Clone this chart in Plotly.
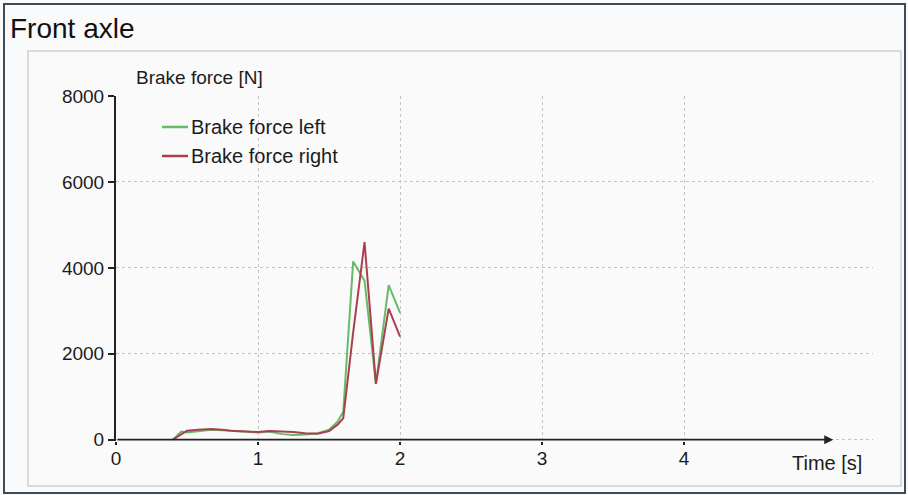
import plotly.graph_objects as go

# ---------------- data ----------------
chart_title = "Front axle"
y_title = "Brake force [N]"
x_title = "Time [s]"
series_names = ["Brake force left", "Brake force right"]

time_s = [0.40, 0.46, 0.50, 0.58, 0.67, 0.75, 0.83, 0.92, 1.00, 1.08, 1.17,
          1.25, 1.33, 1.42, 1.50, 1.56, 1.60, 1.67, 1.75, 1.83, 1.92, 2.00]
force_left = [0, 190, 170, 200, 230, 220, 200, 180, 170, 190, 130,
              110, 120, 150, 230, 420, 650, 4150, 3700, 1300, 3600, 2950]
force_right = [0, 120, 210, 230, 250, 230, 200, 190, 180, 200, 190,
               180, 150, 140, 200, 350, 500, 2500, 4600, 1300, 3050, 2400]

x_ticks = [0, 1, 2, 3, 4]
y_ticks = [0, 2000, 4000, 6000, 8000]

# ---------------- styling ----------------
W, H = 908, 495
ML, MR, MT, MB = 116, 35, 96, 54
X_RANGE = [0, 5.33]
Y_RANGE = [-30, 8000]
FONT = "Liberation Sans, Arial, sans-serif"
TXT = "#1c1c1c"
GREEN = "#66bb66"
RED = "#a8404f"

PW = W - ML - MR
PH = H - MT - MB


def px(x):
    return (x - ML) / PW


def py(y):
    return 1 - (y - MT) / PH


fig = go.Figure()
for name, vals, col in [(series_names[0], force_left, GREEN),
                        (series_names[1], force_right, RED)]:
    fig.add_trace(go.Scatter(x=time_s, y=vals, mode="lines", name=name,
                             line=dict(color=col, width=2), showlegend=False))

shapes = []
# outer frame
shapes.append(dict(type="rect", xref="paper", yref="paper",
                   x0=px(4), x1=px(905), y0=py(4), y1=py(493),
                   line=dict(color="#3e4a56", width=2), layer="below"))
# inner panel
shapes.append(dict(type="rect", xref="paper", yref="paper",
                   x0=px(28), x1=px(901), y0=py(51), y1=py(486),
                   line=dict(color="#cfcfcf", width=1.5), layer="below"))

annotations = []
# x axis drawn as an arrow
annotations.append(dict(x=5.05, y=0, ax=0, ay=0, xref="x", yref="y",
                        axref="x", ayref="y", text="", showarrow=True,
                        arrowhead=2, arrowsize=1.0, arrowwidth=1.8,
                        arrowcolor="#222222"))
annotations.append(dict(x=px(8), y=py(29), xref="paper", yref="paper",
                        text=chart_title, showarrow=False, xanchor="left",
                        yanchor="middle", font=dict(family=FONT, size=28, color="#111111")))
annotations.append(dict(x=px(134), y=py(77), xref="paper", yref="paper",
                        text=y_title, showarrow=False, xanchor="left",
                        yanchor="middle", font=dict(family=FONT, size=19, color=TXT)))
annotations.append(dict(x=px(790), y=py(463), xref="paper", yref="paper",
                        text=x_title, showarrow=False, xanchor="left",
                        yanchor="middle", font=dict(family=FONT, size=20, color=TXT)))
# legend (manual)
for i, (name, col) in enumerate([(series_names[0], GREEN), (series_names[1], RED)]):
    yy = 127 + i * 29
    shapes.append(dict(type="line", xref="paper", yref="paper",
                       x0=px(162), x1=px(188), y0=py(yy), y1=py(yy),
                       line=dict(color=col, width=2.5)))
    annotations.append(dict(x=px(189), y=py(yy), xref="paper", yref="paper",
                            text=name, showarrow=False, xanchor="left",
                            yanchor="middle",
                            font=dict(family=FONT, size=20, color=TXT)))

fig.update_layout(
    width=W, height=H,
    margin=dict(l=ML, r=MR, t=MT, b=MB, pad=0),
    paper_bgcolor="#fafafa",
    plot_bgcolor="rgba(0,0,0,0)",
    showlegend=False,
    shapes=shapes,
    annotations=annotations,
    font=dict(family=FONT, size=19, color=TXT),
    xaxis=dict(range=X_RANGE, tickvals=x_ticks, ticktext=[str(v) for v in x_ticks],
               showgrid=True, gridcolor="#c4c4c4", griddash="dot", gridwidth=1,
               zeroline=False, showline=False, ticks="outside", ticklen=3,
               tickwidth=2, tickcolor="#222222", ticklabelstandoff=-3,
               tickfont=dict(size=19, color=TXT)),
    yaxis=dict(range=Y_RANGE, tickvals=y_ticks, ticktext=[str(v) for v in y_ticks],
               showgrid=True, gridcolor="#c4c4c4", griddash="dot", gridwidth=1,
               zeroline=False, showline=True, linecolor="#222222", linewidth=2,
               ticks="outside", ticklen=6, tickwidth=1.5, tickcolor="#222222",
               tickfont=dict(size=19, color=TXT)),
)

fig.write_html("out.html")
